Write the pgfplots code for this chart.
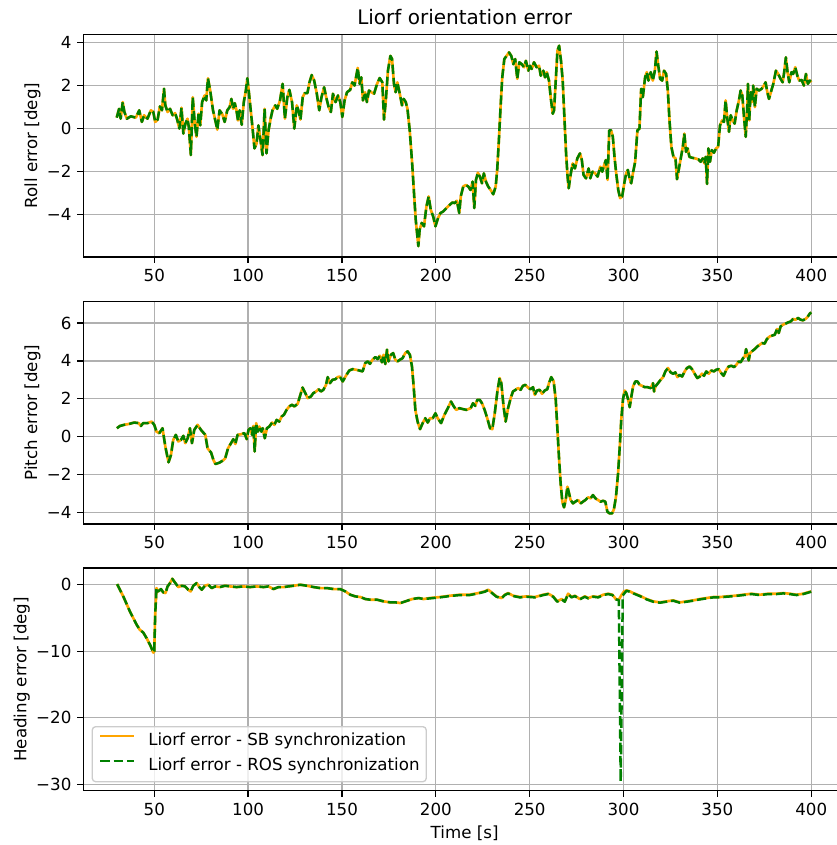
\documentclass[border=0pt]{standalone}
\usepackage{fontspec}
\setmainfont{DejaVu Sans}
\usepackage{pgfplots}
\usepackage{pgfplotstable}
\pgfplotsset{compat=1.18}

\definecolor{sborange}{HTML}{FFA500}
\definecolor{rosgreen}{HTML}{008000}
\definecolor{gridgray}{HTML}{B0B0B0}
\definecolor{legendgray}{HTML}{CCCCCC}

% Roll error [deg] over time [s]
\pgfplotstableread{
t v
30 0.51
31.25 0.92
32.1 0.46
33.2 1.23
34.1 0.77
35.4 0.46
37.5 0.57
40.2 0.51
42 0.85
43.4 0.31
44.6 0.62
46.4 0.46
48.2 0.85
49.5 0.77
50.5 0.31
51.8 0.42
53 1.03
54.1 0.85
55.2 1.85
55.9 1.08
57.1 0.77
58.4 0.92
59.8 0.62
61.1 0.72
62.1 0.46
63.4 0.0
64.5 0.97
65.5 -0.23
66.6 0.23
67.7 0.46
68.4 0.08
69.5 -1.23
70.5 1.46
71.6 0.23
72.5 -0.38
73.6 0.69
74.5 0.15
75.5 1.23
76.8 1.54
77.7 1.31
78.6 2.34
79.8 1.77
81.3 0.85
82.7 0.31
83.6 -0.05
84.8 0.85
86.3 0.66
87.5 0.31
88.9 0.85
90.2 1.0
91.1 1.38
92 0.92
92.9 1.18
93.8 0.85
94.6 0.38
95.5 0.85
96.6 0.18
97.7 1.23
98.8 1.77
99.6 2.34
100.5 1.62
101.4 0.85
102.3 0.08
103.4 -0.92
104.5 -0.69
105.5 0.15
106.6 -0.54
107.7 -1.23
108.8 0.92
109.8 -1.15
110.9 -0.08
112 0.46
113 0.85
114.5 1.08
115.5 0.92
117 1.31
118.4 2.08
119.6 0.46
120.9 1.46
122 1.8
123.4 1.23
124.6 0.0
125.9 1.08
126.8 0.85
127.9 0.42
129.1 1.46
130.2 1.65
131.6 1.65
132.7 2.15
133.9 2.49
135.2 2.23
136.6 1.62
137.9 0.85
139.1 1.46
140.5 1.92
141.6 1.46
142.9 1.0
144.1 0.77
145.2 1.62
146.6 1.23
147.9 1.54
149.1 1.23
150.2 0.54
151.4 1.31
152.7 1.69
154.4 1.8
155.5 2.15
156.7 2.0
158.4 2.82
159.4 2.08
160.3 2.38
161.2 1.31
162.3 1.69
163.3 1.23
164.4 1.77
165.6 1.69
167.1 1.62
168.7 2.08
170.1 2.35
171.5 2.15
172.4 0.42
173.3 1.23
174.5 2.69
175.8 3.38
176.7 3.23
177.7 2.08
178.6 1.69
179.5 2.15
180.8 1.62
182 1.08
182.9 1.38
184 1.23
184.9 0.92
186.1 -0.08
187.4 -1.62
188.5 -3.15
189.3 -4.23
190 -4.85
190.7 -5.46
191.4 -4.69
192.5 -4.38
193.7 -4.54
195 -3.62
196.2 -3.15
197.3 -3.77
198.6 -4.08
199.8 -4.54
201.2 -4.15
202.5 -3.92
203.9 -3.85
205.7 -3.69
207.4 -3.54
208.9 -3.43
210.1 -3.46
211.2 -3.35
212.5 -3.92
213.3 -3.15
214.6 -2.69
216 -2.62
217.3 -2.69
218.5 -2.85
219.6 -2.46
220.5 -3.69
221.4 -2.38
222.4 -2.05
223.5 -2.23
224.6 -2.54
225.6 -2.08
226.7 -2.46
227.9 -2.69
229.2 -2.85
230.6 -3.05
231.9 -2.69
232.7 -1.92
233.6 -0.54
234.5 1.0
235.4 2.38
236.5 3.23
237.7 3.38
239 3.54
240.2 3.38
241.3 2.99
242.3 3.23
243.4 2.31
244.5 3.08
245.7 3.0
247 2.85
248 3.15
249.3 2.69
250.2 2.92
251.1 2.77
252.3 3.08
253.7 2.85
255 2.92
255.9 2.46
257.3 2.69
258.2 2.38
259.1 2.62
260.3 2.23
261.2 1.46
262.3 0.69
263 0.85
263.9 2.23
264.8 3.62
265.7 3.85
266.7 3.15
267.6 2.23
268.5 0.54
269.4 -1.15
270.2 -2.23
270.8 -2.77
271.8 -2.15
272.9 -1.62
274.1 -1.85
275.4 -1.38
276.8 -1.15
277.8 -1.46
278.7 -2.15
280 -2.31
281.4 -1.85
282.3 -2.31
283.5 -2.0
284.9 -2.08
286.2 -2.23
287.6 -1.77
288.7 -2.0
289.7 -1.69
290.6 -1.46
291.5 -2.38
292.4 -0.08
293.4 -0.08
294.3 -0.38
295.2 -1.31
296.1 -2.08
297.2 -2.85
298.2 -3.23
299.3 -3.15
300.4 -2.54
301.4 -2.08
302.3 -1.92
303.2 -2.31
304.1 -2.54
305 -2.08
306.2 -1.54
307.4 -0.08
308.5 0.0
309.4 1.85
310.3 1.46
311.5 2.38
312.4 2.62
313.3 2.23
314.5 2.62
315.6 2.23
316.7 2.69
317.6 3.58
318.4 3.0
319.5 2.31
320.6 2.23
321.6 2.69
322.7 2.54
323.6 1.77
324.5 0.38
325.5 -0.85
326.6 -1.31
327.7 -1.38
328.5 -2.35
329.4 -1.92
330.5 -1.38
331.6 -0.85
332.4 -0.23
333.3 -1.08
334.2 -0.92
335.1 -1.31
336.3 -1.35
338.1 -1.38
339.9 -1.43
341.1 -1.54
342.2 -1.38
343.1 -1.62
343.8 -1.31
344.5 -2.57
345.2 -0.92
346.1 -1.54
347 -1.0
348.2 -1.12
349.3 -0.92
350.4 -0.85
351.4 0.15
352.5 0.38
353.5 0.31
354.4 1.31
355.3 0.46
356.2 -0.15
357.1 0.62
358.2 0.38
359.2 0.23
360.3 0.85
361.5 1.31
362.4 1.77
363.3 1.54
364.2 0.54
365.1 -0.38
365.8 0.77
366.3 2.08
367 0.38
367.7 1.69
368.4 1.23
369.1 2.0
370 1.0
370.9 1.85
372.2 1.77
373.6 1.85
374.8 2.0
375.7 2.15
376.6 1.69
377.5 1.38
378.5 1.69
379.8 2.08
381.2 2.69
382.4 2.54
383.7 2.31
384.8 2.15
385.6 2.62
386.5 3.31
387.4 2.62
388.3 2.15
389.5 2.62
390.4 2.54
391.5 2.85
392.6 2.46
393.6 2.23
394.9 2.26
396.1 2.0
397.2 2.54
398.2 2.08
399.3 2.23
400 2.15
}\rolldata

% Pitch error [deg] over time [s]
\pgfplotstableread{
t v
30.1 0.44
31.7 0.56
34 0.62
36.7 0.67
39.3 0.74
41.7 0.71
42.9 0.56
44.1 0.71
46.4 0.71
48.6 0.79
50 0.62
51.2 0.26
52.7 0.18
54.4 0.44
55.9 -0.53
57.6 -1.36
58.9 -0.97
60.1 -0.18
61.5 0.09
62.8 -0.26
64.2 -0.18
65.5 0.04
66.5 -0.35
67.8 -0.09
69 0.44
70.1 -0.35
71.3 0.35
73.1 0.62
74.9 0.35
77.2 0.09
78.4 -0.62
80.3 -0.85
81.5 -1.23
82.6 -1.45
84.7 -1.38
86.5 -1.27
87.8 -1.15
89.3 -0.62
90.9 -0.35
92.1 -0.14
93.2 -0.39
94.4 0.09
96.2 0.12
98 0.18
99.3 -0.14
100.2 0.35
101.2 0.44
102.1 0.09
102.8 0.56
103.5 -0.79
104.3 0.71
105.2 0.26
106 0.53
107.1 0.26
107.8 0.44
108.9 -0.09
110 0.44
111.3 0.53
112.8 0.74
114 0.62
115.2 0.88
116.6 0.79
117.9 1.06
119.1 1.15
120.5 1.41
121.9 1.59
123.4 1.68
124.6 1.59
126.4 1.73
127.6 2.12
129 2.59
130.5 2.29
131.7 2.03
133.5 2.12
134.7 2.29
136.2 2.38
137.6 2.5
138.8 2.38
140.1 2.47
141.5 2.73
142.4 3.14
143.6 2.82
145 3.0
146.5 3.03
147.7 3.14
148.9 3.17
150.4 2.91
152.1 3.21
153.9 3.49
155.7 3.56
157.5 3.53
159.2 3.49
161 3.44
162.4 3.88
163.7 3.97
164.9 3.84
166.3 4.06
167.8 4.2
169 4.09
170.2 4.27
171.3 3.92
172.2 4.32
173.1 3.83
174 4.59
174.8 3.97
176.1 4.32
177.3 4.41
178.4 4.06
179.6 3.97
180.9 4.06
182.3 4.14
183.7 4.41
185 4.5
186.2 4.32
187.3 3.7
188.2 2.65
189.1 1.41
190.3 0.79
191.6 0.39
193 0.71
194.4 0.97
195.7 0.74
196.9 0.97
198.4 0.97
199.8 1.23
201 0.97
202.8 0.71
204.6 1.15
206.4 1.5
208.1 1.85
209.4 1.62
210.8 1.41
212.6 1.5
214.4 1.45
216.3 1.41
218.6 1.5
219.8 1.76
221 1.62
222.1 1.94
223.4 1.94
224.6 1.76
226 1.41
227.4 0.97
228.9 0.44
230.1 0.39
231.4 1.23
232.8 2.38
234 3.09
234.9 2.82
236.1 1.59
237.2 0.79
238.5 1.5
239.9 2.03
241.1 2.38
242.5 2.47
243.8 2.56
245.2 2.47
246.4 2.68
247.7 2.73
249.1 2.59
250.5 2.5
251.8 2.61
252.7 2.2
253.9 2.43
255.3 2.47
256.6 2.26
258 2.43
259.4 2.5
260.3 2.82
261.5 3.14
262.8 2.91
263.9 1.94
264.7 0.53
265.6 -1.06
266.5 -2.47
267.4 -3.44
268.3 -3.74
269.2 -3.35
270.1 -2.65
271 -3.0
271.8 -3.35
273.1 -3.53
274.3 -3.44
275.8 -3.35
277.2 -3.53
278.4 -3.44
279.7 -3.35
281.1 -3.21
282.5 -3.26
283.7 -3.09
285 -3.26
286.4 -3.35
287.8 -3.44
289.1 -3.39
290.3 -3.44
291.4 -3.97
292.6 -4.06
293.9 -4.06
294.9 -3.84
296 -3.17
297.1 -1.94
298 -0.53
298.8 0.88
299.7 1.94
300.6 2.43
301.5 2.29
302.4 1.98
303.3 1.55
304.2 2.12
305.1 2.65
306.3 2.91
307.4 2.91
308.6 2.73
309.9 2.68
311.3 2.61
312.7 2.61
314.5 2.56
315.7 2.82
316.3 2.38
317 2.65
318.4 2.82
319.8 3.0
321.1 3.14
322.3 3.44
323.7 3.62
325.1 3.39
326.4 3.32
327.6 3.39
328.7 3.14
329.9 3.26
331.2 3.17
332.6 3.44
333.8 3.62
335.2 3.7
336.5 3.56
337.9 3.32
339.3 3.09
340.6 3.17
341.8 3.32
342.9 3.21
344.1 3.44
345.4 3.32
346.8 3.49
348.2 3.44
349.4 3.53
350.7 3.56
352.1 3.35
353.3 3.21
354.8 3.53
356 3.7
357.5 3.74
358.9 3.67
360.1 3.79
361.4 3.97
362.4 3.92
363.7 4.14
364.6 4.23
365.3 4.62
366 4.32
366.7 4.02
367.4 4.41
368.4 4.5
369.9 4.62
371.3 4.76
372.6 4.85
373.8 4.94
375.2 4.91
376.4 5.15
377.9 5.29
379.1 5.33
380.6 5.38
381.8 5.68
382.7 5.47
383.7 5.82
385 5.91
386.2 5.96
387.7 6.03
389.1 6.08
390.3 6.21
391.6 6.17
393 6.26
394.4 6.17
395.6 6.14
396.9 6.21
398 6.31
399.2 6.49
400 6.56
}\pitchdata

% Heading error [deg], SB-synchronised run
\pgfplotstableread{
t v
30.2 0.1
33.5 -1.75
37 -4.0
40.6 -6.0
42.3 -6.77
44.1 -7.17
45.9 -8.02
48 -9.17
49.5 -10.2
50 -10.0
50.5 -4.5
51.2 -0.5
52.1 -1.0
53.6 -0.65
54.8 -1.15
56 -1.25
57.1 -0.25
58.4 0.25
59.6 0.9
61 0.35
62.8 -0.35
64.6 -0.15
66.4 -0.25
68.1 -0.75
69.4 -1.0
70.8 -0.15
72.6 0.25
74 -0.35
75.3 -0.75
77 -0.15
78.8 0.0
80.6 -0.5
82.4 -0.25
85 -0.35
87.7 -0.15
90.4 -0.25
93.9 -0.35
97.5 -0.25
101.1 -0.35
104.6 -0.25
108.2 -0.35
110.9 -0.25
113.5 -0.65
116.2 -0.35
118.9 -0.35
121.5 -0.25
124.2 -0.15
127.8 0.0
131.3 -0.15
134.9 -0.35
138.4 -0.5
142 -0.5
145.6 -0.65
149.1 -0.65
151.8 -1.0
154.4 -1.5
157.1 -1.75
159.8 -1.85
162.5 -2.15
165.1 -2.25
168.7 -2.25
172.2 -2.5
175.8 -2.65
178.5 -2.65
181.1 -2.75
183.8 -2.5
187.4 -2.15
190.9 -2.0
193.5 -2.15
196.8 -2.0
202.1 -1.85
207.5 -1.65
212.8 -1.5
218.1 -1.5
222.6 -1.25
226.1 -1.0
227.9 -0.75
229.7 -1.15
232.3 -1.75
235 -2.0
236.8 -1.5
238.5 -1.25
241.2 -1.65
244.8 -1.85
248.3 -1.75
252.8 -1.85
257.2 -1.5
259.9 -1.35
262.5 -1.75
264.7 -2.5
267 -2.15
268.7 -2.5
270.5 -1.35
272.3 -1.85
274.1 -1.65
276.7 -2.15
279.4 -1.75
281.2 -2.0
283.8 -1.75
286.5 -1.85
289.2 -1.5
291.8 -1.35
294.1 -1.5
295.9 -2.15
297.4 -2.3
299 -1.5
300.3 -1.0
301.6 -0.85
303.4 -1.0
305.2 -1.25
308.7 -1.65
312.3 -2.15
315.8 -2.5
319.4 -2.65
322.9 -2.5
326.5 -2.35
330 -2.65
333.6 -2.5
337.1 -2.35
340.7 -2.15
344.2 -2.0
347.8 -1.85
351.3 -1.85
354.9 -1.75
359.3 -1.65
363.8 -1.5
368.2 -1.35
372.6 -1.5
377.1 -1.35
381.5 -1.35
385.1 -1.25
388.6 -1.35
392.2 -1.5
395.7 -1.35
400 -1.0
}\headingsb

% Heading error [deg], ROS-synchronised run
\pgfplotstableread{
t v
30.2 0.1
33.5 -1.75
37 -4.0
40.6 -6.0
42.3 -6.77
44.1 -7.17
45.9 -8.02
48 -9.17
49.5 -10.2
50 -10.0
50.5 -4.5
51.2 -0.5
52.1 -1.0
53.6 -0.65
54.8 -1.15
56 -1.25
57.1 -0.25
58.4 0.25
59.6 0.9
61 0.35
62.8 -0.35
64.6 -0.15
66.4 -0.25
68.1 -0.75
69.4 -1.0
70.8 -0.15
72.6 0.25
74 -0.35
75.3 -0.75
77 -0.15
78.8 0.0
80.6 -0.5
82.4 -0.25
85 -0.35
87.7 -0.15
90.4 -0.25
93.9 -0.35
97.5 -0.25
101.1 -0.35
104.6 -0.25
108.2 -0.35
110.9 -0.25
113.5 -0.65
116.2 -0.35
118.9 -0.35
121.5 -0.25
124.2 -0.15
127.8 0.0
131.3 -0.15
134.9 -0.35
138.4 -0.5
142 -0.5
145.6 -0.65
149.1 -0.65
151.8 -1.0
154.4 -1.5
157.1 -1.75
159.8 -1.85
162.5 -2.15
165.1 -2.25
168.7 -2.25
172.2 -2.5
175.8 -2.65
178.5 -2.65
181.1 -2.75
183.8 -2.5
187.4 -2.15
190.9 -2.0
193.5 -2.15
196.8 -2.05
202.1 -1.9
207.5 -1.7
212.8 -1.55
218.1 -1.55
222.6 -1.3
226.1 -1.05
227.9 -0.8
229.7 -1.2
232.3 -1.8
235 -2.05
236.8 -1.55
238.5 -1.3
241.2 -1.7
244.8 -1.9
248.3 -1.8
252.8 -1.9
257.2 -1.55
259.9 -1.4
262.5 -1.8
264.7 -2.55
267 -2.2
268.7 -2.55
270.5 -1.4
272.3 -1.9
274.1 -1.7
276.7 -2.2
279.4 -1.8
281.2 -2.05
283.8 -1.8
286.5 -1.9
289.2 -1.55
291.8 -1.4
294.1 -1.55
295.9 -2.2
297.5 -2.3
298.5 -29.6
299.6 -1.6
301.6 -0.9
303.4 -1.05
305.2 -1.3
308.7 -1.7
312.3 -2.2
315.8 -2.55
319.4 -2.7
322.9 -2.55
326.5 -2.4
330 -2.7
333.6 -2.55
337.1 -2.4
340.7 -2.2
344.2 -2.05
347.8 -1.9
351.3 -1.9
354.9 -1.8
359.3 -1.7
363.8 -1.55
368.2 -1.4
372.6 -1.55
377.1 -1.4
381.5 -1.4
385.1 -1.3
388.6 -1.4
392.2 -1.55
395.7 -1.4
400 -1.05
}\headingros

\pgfplotsset{
  errpanel/.style={
    scale only axis,
    width=549.1pt, height=160.3pt,
    xmin=12.2, xmax=418.5,
    xtick={50,100,150,200,250,300,350,400},
    xticklabels={50,100,150,200,250,300,350,400},
    grid=major,
    major grid style={gridgray, line width=0.96pt},
    axis line style={line width=0.96pt},
    every tick/.style={black, line width=0.96pt},
    major tick length=4.2pt,
    tick align=outside, tick pos=left,
    tick label style={font=\fontsize{12}{14.4}\selectfont, inner sep=4.2pt},
    label style={font=\fontsize{12}{14.4}\selectfont},
    ylabel shift=-3.2pt,
    anchor=south west,
  },
  sbline/.style={sborange, line width=1.9pt, line join=round},
  rosline/.style={rosgreen, line width=1.8pt, line join=round,
    dash pattern=on 6.66pt off 2.88pt},
}

\begin{document}
\begin{tikzpicture}
% Roll
\begin{axis}[errpanel, at={(59.98pt,423.4pt)},
  ymin=-5.96, ymax=4.38,
  ytick={-4,-2,0,2,4}, yticklabels={−4,−2,0,2,4},
  ylabel={Roll error [deg]},
  title={Liorf orientation error},
  title style={font=\fontsize{14.4}{17.28}\selectfont, yshift=-2.6pt}]
\addplot[sbline] table[x=t, y=v] {\rolldata};
\addplot[rosline] table[x=t, y=v] {\rolldata};
\end{axis}
% Pitch
\begin{axis}[errpanel, at={(59.98pt,231.1pt)},
  ymin=-4.62, ymax=7.14,
  ytick={-4,-2,0,2,4,6}, yticklabels={−4,−2,0,2,4,6},
  ylabel={Pitch error [deg]}]
\addplot[sbline] table[x=t, y=v] {\pitchdata};
\addplot[rosline] table[x=t, y=v] {\pitchdata};
\end{axis}
% Heading
\begin{axis}[errpanel, at={(59.98pt,39.1pt)},
  ymin=-30.96, ymax=2.51,
  ytick={-30,-20,-10,0}, yticklabels={−30,−20,−10,0},
  ylabel={Heading error [deg]},
  xlabel={Time [s]},
  legend cell align=left,
  legend image code/.code={\draw[#1] (0pt,4pt) -- (24pt,4pt);},
  legend style={at={(0,0)}, anchor=south west, xshift=6pt, yshift=6pt,
    draw=legendgray, line width=0.96pt, rounded corners=2.4pt,
    fill=white, fill opacity=0.8, text opacity=1,
    font=\fontsize{12}{14.4}\selectfont,
    inner xsep=4.8pt, inner ysep=4.8pt, row sep=6pt, column sep=9.6pt,
    nodes={inner sep=0pt, text height=9pt, text depth=3pt}}]
\addplot[sbline] table[x=t, y=v] {\headingsb};
\addlegendentry{Liorf error - SB synchronization}
\addplot[rosline] table[x=t, y=v] {\headingros};
\addlegendentry{Liorf error - ROS synchronization}
\end{axis}
\pgfresetboundingbox
\path[use as bounding box] (0,0) rectangle (602.64pt,608.4pt);
\end{tikzpicture}
\end{document}
